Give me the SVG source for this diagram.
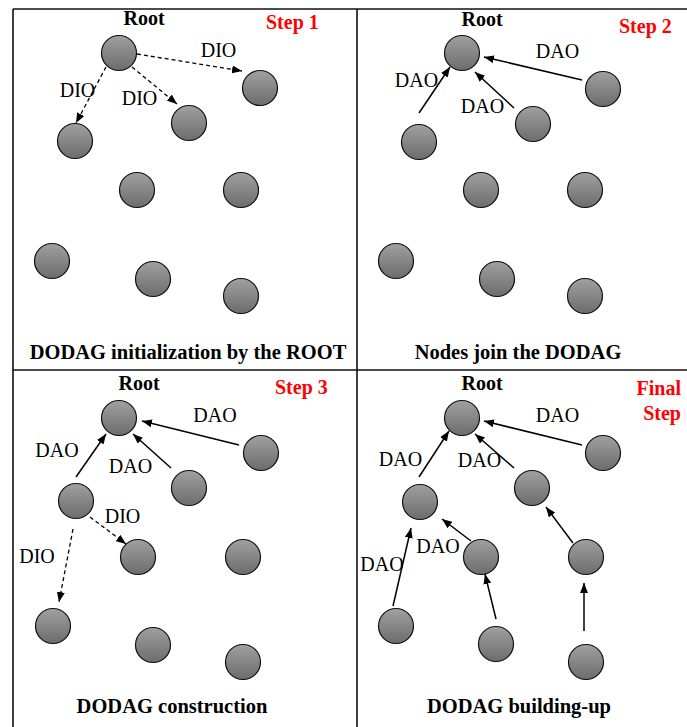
<svg xmlns="http://www.w3.org/2000/svg" width="687" height="727" viewBox="0 0 687 727">
  <defs>
    <linearGradient id="ball" x1="0" y1="0" x2="0" y2="1">
      <stop offset="0" stop-color="#a0a0a0"/>
      <stop offset="1" stop-color="#6c6c6c"/>
    </linearGradient>
    <marker id="head" markerUnits="userSpaceOnUse" markerWidth="10" markerHeight="8" refX="10" refY="4" orient="auto">
      <path d="M0,0 L10,4 L0,8 z" fill="#000"/>
    </marker>
  </defs>
  <style>
    .node circle { fill: url(#ball); stroke: #111; stroke-width: 1.2; }
    .frame { stroke: #111; stroke-width: 1.6; fill: none; }
    .link { stroke: #000; stroke-width: 1.5; fill: none; marker-end: url(#head); }
    .dio { stroke-dasharray: 4 3; stroke-width: 1.3; }
    text { font-family: 'Liberation Serif', 'Times New Roman', serif; }
    .msg { font-size: 20px; fill: #000; text-anchor: middle; }
    .root { font-size: 20px; font-weight: bold; fill: #000; text-anchor: middle; }
    .step { font-size: 20px; font-weight: bold; fill: #ff0000; }
    .caption { font-size: 20.5px; font-weight: bold; fill: #000; text-anchor: middle; }
  </style>
  <rect width="687" height="727" fill="#fff"/>

  <!-- panel grid -->
  <g id="frame">
    <line class="frame" x1="13" y1="9" x2="687" y2="9"/>
    <line class="frame" x1="13" y1="9" x2="13" y2="727"/>
    <line class="frame" x1="357" y1="9" x2="357" y2="727"/>
    <line class="frame" x1="13" y1="370" x2="687" y2="370"/>
  </g>

  <!-- panel 1: DIO from the root -->
  <g id="p1-root" class="node"><circle cx="119" cy="53" r="17.5"/></g>
  <g id="p1-a" class="node"><circle cx="260" cy="88" r="17.5"/></g>
  <g id="p1-b" class="node"><circle cx="189" cy="123" r="17.5"/></g>
  <g id="p1-c" class="node"><circle cx="75" cy="141" r="17.5"/></g>
  <g id="p1-d" class="node"><circle cx="137" cy="190" r="17.5"/></g>
  <g id="p1-e" class="node"><circle cx="241" cy="190" r="17.5"/></g>
  <g id="p1-f" class="node"><circle cx="52" cy="261" r="17.5"/></g>
  <g id="p1-g" class="node"><circle cx="153" cy="279" r="17.5"/></g>
  <g id="p1-h" class="node"><circle cx="241" cy="296" r="17.5"/></g>

  <!-- panel 2: nodes send DAO -->
  <g id="p2-root" class="node"><circle cx="462" cy="53" r="17.5"/></g>
  <g id="p2-a" class="node"><circle cx="603" cy="89" r="17.5"/></g>
  <g id="p2-b" class="node"><circle cx="533" cy="124" r="17.5"/></g>
  <g id="p2-c" class="node"><circle cx="419" cy="142" r="17.5"/></g>
  <g id="p2-d" class="node"><circle cx="481" cy="190" r="17.5"/></g>
  <g id="p2-e" class="node"><circle cx="585" cy="190" r="17.5"/></g>
  <g id="p2-f" class="node"><circle cx="396" cy="261" r="17.5"/></g>
  <g id="p2-g" class="node"><circle cx="497" cy="279" r="17.5"/></g>
  <g id="p2-h" class="node"><circle cx="585" cy="296" r="17.5"/></g>

  <!-- panel 3: construction -->
  <g id="p3-root" class="node"><circle cx="119" cy="418" r="17.5"/></g>
  <g id="p3-a" class="node"><circle cx="261" cy="453" r="17.5"/></g>
  <g id="p3-b" class="node"><circle cx="189" cy="488" r="17.5"/></g>
  <g id="p3-c" class="node"><circle cx="76" cy="501" r="17.5"/></g>
  <g id="p3-d" class="node"><circle cx="138" cy="557" r="17.5"/></g>
  <g id="p3-e" class="node"><circle cx="243" cy="557" r="17.5"/></g>
  <g id="p3-f" class="node"><circle cx="53" cy="626" r="17.5"/></g>
  <g id="p3-g" class="node"><circle cx="153" cy="645" r="17.5"/></g>
  <g id="p3-h" class="node"><circle cx="243" cy="662" r="17.5"/></g>

  <!-- panel 4: building-up -->
  <g id="p4-root" class="node"><circle cx="462" cy="418" r="17.5"/></g>
  <g id="p4-a" class="node"><circle cx="603" cy="453" r="17.5"/></g>
  <g id="p4-b" class="node"><circle cx="532" cy="488" r="17.5"/></g>
  <g id="p4-c" class="node"><circle cx="420" cy="502" r="17.5"/></g>
  <g id="p4-d" class="node"><circle cx="481" cy="557" r="17.5"/></g>
  <g id="p4-e" class="node"><circle cx="586" cy="557" r="17.5"/></g>
  <g id="p4-f" class="node"><circle cx="396" cy="626" r="17.5"/></g>
  <g id="p4-g" class="node"><circle cx="496" cy="644" r="17.5"/></g>
  <g id="p4-h" class="node"><circle cx="586" cy="662" r="17.5"/></g>

  <!-- connectors -->
  <g id="connectors">
    <!-- panel 1 -->
    <line class="link dio" x1="137" y1="54" x2="242" y2="71"/>
    <line class="link dio" x1="132" y1="67" x2="177" y2="104"/>
    <line class="link dio" x1="106" y1="67" x2="76" y2="123"/>
    <!-- panel 2 -->
    <line class="link" x1="419" y1="113" x2="450" y2="67"/>
    <line class="link" x1="514" y1="108" x2="475" y2="72"/>
    <line class="link" x1="582" y1="80" x2="484" y2="57"/>
    <!-- panel 3 -->
    <line class="link" x1="76" y1="477" x2="106" y2="434"/>
    <line class="link" x1="171" y1="468" x2="133" y2="434"/>
    <line class="link" x1="239" y1="445" x2="142" y2="421"/>
    <line class="link dio" x1="90" y1="517" x2="126" y2="544"/>
    <line class="link dio" x1="73" y1="529" x2="59" y2="602"/>
    <!-- panel 4 -->
    <line class="link" x1="419" y1="477" x2="449" y2="431"/>
    <line class="link" x1="514" y1="468" x2="475" y2="434"/>
    <line class="link" x1="582" y1="445" x2="484" y2="421"/>
    <line class="link" x1="471" y1="541" x2="442" y2="519"/>
    <line class="link" x1="393" y1="606" x2="411" y2="528"/>
    <line class="link" x1="496" y1="619" x2="485" y2="574"/>
    <line class="link" x1="573" y1="543" x2="546" y2="507"/>
    <line class="link" x1="584" y1="631" x2="584" y2="583"/>
  </g>

  <!-- message labels -->
  <g id="labels">
    <text class="msg" font-family="Liberation Serif" x="218.5" y="57">DIO</text>
    <text class="msg" font-family="Liberation Serif" x="77.5" y="97">DIO</text>
    <text class="msg" font-family="Liberation Serif" x="139.5" y="105">DIO</text>

    <text class="msg" font-family="Liberation Serif" x="557.5" y="58">DAO</text>
    <text class="msg" font-family="Liberation Serif" x="416.5" y="87">DAO</text>
    <text class="msg" font-family="Liberation Serif" x="482.5" y="113">DAO</text>

    <text class="msg" font-family="Liberation Serif" x="215" y="422">DAO</text>
    <text class="msg" font-family="Liberation Serif" x="57" y="457">DAO</text>
    <text class="msg" font-family="Liberation Serif" x="130.5" y="473">DAO</text>
    <text class="msg" font-family="Liberation Serif" x="122.5" y="523">DIO</text>
    <text class="msg" font-family="Liberation Serif" x="37" y="563">DIO</text>

    <text class="msg" font-family="Liberation Serif" x="557.5" y="422">DAO</text>
    <text class="msg" font-family="Liberation Serif" x="400.5" y="466">DAO</text>
    <text class="msg" font-family="Liberation Serif" x="479.5" y="467">DAO</text>
    <text class="msg" font-family="Liberation Serif" x="438" y="553">DAO</text>
    <text class="msg" font-family="Liberation Serif" x="382" y="571">DAO</text>
  </g>

  <!-- panel titles -->
  <g id="titles">
    <text class="root" font-family="Liberation Serif" x="144" y="25">Root</text>
    <text class="root" font-family="Liberation Serif" x="482" y="26">Root</text>
    <text class="root" font-family="Liberation Serif" x="139" y="390">Root</text>
    <text class="root" font-family="Liberation Serif" x="482" y="390">Root</text>

    <text class="step" font-family="Liberation Serif" x="266" y="29">Step 1</text>
    <text class="step" font-family="Liberation Serif" x="619" y="33">Step 2</text>
    <text class="step" font-family="Liberation Serif" x="275" y="394">Step 3</text>
    <text class="step" font-family="Liberation Serif" x="681" y="395" text-anchor="end">Final</text>
    <text class="step" font-family="Liberation Serif" x="681" y="420" text-anchor="end">Step</text>

    <text class="caption" font-family="Liberation Serif" x="188" y="359">DODAG initialization by the ROOT</text>
    <text class="caption" font-family="Liberation Serif" x="518" y="359">Nodes join the DODAG</text>
    <text class="caption" font-family="Liberation Serif" x="172" y="713">DODAG construction</text>
    <text class="caption" font-family="Liberation Serif" x="519" y="713">DODAG building-up</text>
  </g>
</svg>
